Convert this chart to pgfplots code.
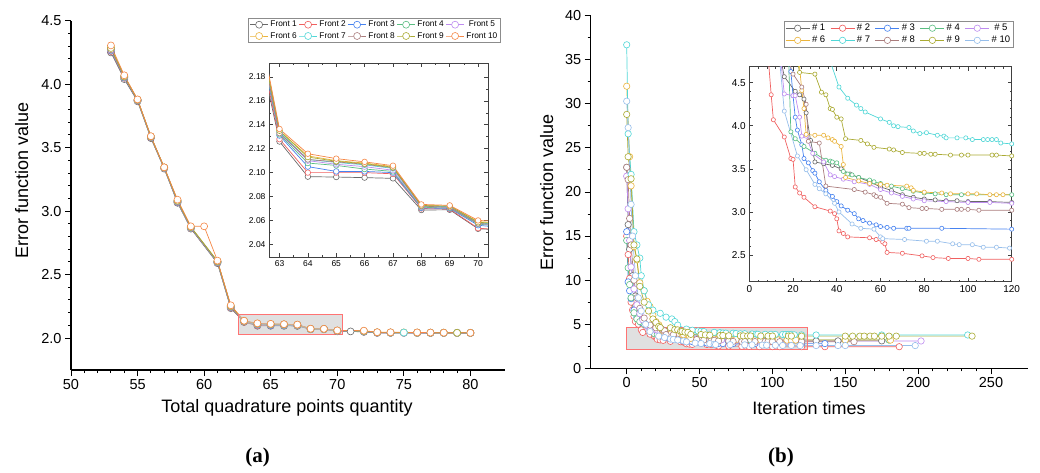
\documentclass[border=0pt]{standalone}
\usepackage{fontspec}
\setmainfont{Liberation Sans}
\newfontfamily\serifbf{Liberation Serif}
\usepackage{pgfplots}
\usepackage{pgfplotstable}
\pgfplotsset{compat=1.18}
\definecolor{c1}{RGB}{105,105,105}
\definecolor{c2}{RGB}{240,96,96}
\definecolor{c3}{RGB}{70,130,240}
\definecolor{c4}{RGB}{90,190,130}
\definecolor{c5}{RGB}{190,140,240}
\definecolor{c6}{RGB}{235,180,60}
\definecolor{c7}{RGB}{80,215,215}
\definecolor{c8}{RGB}{170,125,125}
\definecolor{c9}{RGB}{170,170,50}
\definecolor{c10}{RGB}{245,135,70}
\definecolor{c11}{RGB}{150,190,235}
\pgfplotsset{
  /pgf/number format/assume math mode=true,
  ser/.style={color=#1, line width=0.7pt, mark=*, mark options={fill=white, draw=#1, line width=0.6pt, solid}},
  mainax/.style={scale only axis, axis x line*=bottom, axis y line*=left,
    axis line style={line width=1.2pt,-}, tick align=outside,
    major tick length=6pt, minor tick length=3pt,
    tick style={black, line width=1pt},
    ticklabel style={font=\fontsize{14.5}{16}\selectfont}},
  insax/.style={scale only axis, axis line style={line width=0.8pt, black!75},
    tick align=inside, major tick length=4pt, minor tick length=2pt,
    tick style={black!75, line width=0.6pt}},
}
% ---------------- left data: fronts
\pgfplotstableread{
x y
53 4.250
54 4.040
55 3.865
56 3.575
57 3.335
58 3.065
59 2.862
61 2.590
62 2.235
63 2.126
64 2.0966
65 2.0963
66 2.0958
67 2.0952
68 2.0687
69 2.0689
70 2.053
71 2.052
72 2.048
73 2.040
74 2.040
75 2.040
76 2.039
77 2.039
78 2.039
79 2.039
80 2.039
}\La
\pgfplotstableread{
x y
53 4.260
54 4.050
55 3.870
56 3.580
57 3.338
58 3.070
59 2.865
61 2.595
62 2.240
63 2.128
64 2.100
65 2.100
66 2.100
67 2.099
68 2.070
69 2.0695
70 2.0535
72 2.050
73 2.041
74 2.041
75 2.041
76 2.040
77 2.040
78 2.040
79 2.040
80 2.040
}\Lb
\pgfplotstableread{
x y
53 4.265
54 4.052
55 3.872
56 3.582
57 3.340
58 3.072
59 2.867
61 2.597
62 2.243
63 2.131
64 2.105
65 2.101
66 2.101
67 2.100
68 2.0705
69 2.070
70 2.056
72 2.051
73 2.042
74 2.042
75 2.042
76 2.041
77 2.041
78 2.041
79 2.040
80 2.040
}\Lc
\pgfplotstableread{
x y
53 4.270
54 4.055
55 3.873
56 3.583
57 3.340
58 3.075
59 2.868
61 2.598
62 2.245
63 2.132
64 2.108
65 2.106
66 2.103
67 2.101
68 2.071
69 2.0705
70 2.057
72 2.052
73 2.043
74 2.042
75 2.042
76 2.041
77 2.041
78 2.041
79 2.041
80 2.040
}\Ld
\pgfplotstableread{
x y
53 4.272
54 4.057
55 3.874
56 3.584
57 3.341
58 3.077
59 2.870
61 2.600
62 2.247
63 2.133
64 2.110
65 2.107
66 2.105
67 2.102
68 2.0715
69 2.071
70 2.0575
72 2.053
73 2.043
74 2.043
75 2.042
76 2.042
77 2.041
78 2.041
79 2.041
80 2.040
}\Le
\pgfplotstableread{
x y
53 4.290
54 4.065
55 3.878
56 3.588
57 3.344
58 3.085
59 2.877
61 2.606
62 2.255
63 2.135
64 2.114
65 2.110
66 2.108
67 2.105
68 2.0725
69 2.072
70 2.059
72 2.056
73 2.045
74 2.044
75 2.044
76 2.043
77 2.042
78 2.042
79 2.041
80 2.041
}\Lf
\pgfplotstableread{
x y
53 4.280
54 4.060
55 3.876
56 3.586
57 3.343
58 3.080
59 2.873
61 2.603
62 2.250
63 2.134
64 2.111
65 2.1085
66 2.1065
67 2.1035
68 2.072
69 2.0715
70 2.058
72 2.054
73 2.044
74 2.043
75 2.043
76 2.042
77 2.042
78 2.041
79 2.041
80 2.041
}\Lg
\pgfplotstableread{
x y
53 4.275
54 4.058
55 3.875
56 3.585
57 3.342
58 3.078
59 2.872
61 2.601
62 2.248
63 2.133
64 2.111
65 2.109
66 2.107
67 2.104
68 2.072
69 2.071
70 2.0575
72 2.054
73 2.044
74 2.043
76 2.042
77 2.042
78 2.041
79 2.041
80 2.041
}\Lh
\pgfplotstableread{
x y
53 4.285
54 4.062
55 3.877
56 3.587
57 3.344
58 3.082
59 2.875
61 2.605
62 2.252
63 2.135
64 2.113
65 2.1095
66 2.1075
67 2.1045
68 2.0725
69 2.072
70 2.0585
72 2.055
73 2.045
74 2.044
76 2.043
77 2.042
78 2.042
79 2.041
80 2.041
}\Li
\pgfplotstableread{
x y
53 4.305
54 4.070
55 3.880
56 3.590
57 3.345
58 3.090
59 2.880
60 2.880
61 2.610
62 2.258
63 2.1365
64 2.1158
65 2.1117
66 2.109
67 2.1058
68 2.0734
69 2.0726
70 2.060
72 2.058
73 2.046
74 2.045
76 2.044
77 2.043
78 2.042
80 2.041
}\Lj
% ---------------- right data: runs
\pgfplotstableread{
x y
0 22.8
1 16.3
2 13.5
4 10.5
6 8.2
8 6.6
10 5.6
13 4.95
16 4.57
21 4.40
23 4.36
25 4.31
26 4.15
28 3.83
30 3.58
34 3.56
38 3.54
42 3.50
46 3.44
50 3.40
55 3.35
60 3.29
65 3.25
70 3.20
75 3.17
80 3.15
85 3.14
90 3.13
95 3.13
100 3.12
110 3.12
120 3.11
130 3.11
145 3.11
175 3.11
}\Ra
\pgfplotstableread{
x y
0 15.0
1 12.9
2 10.2
3 7.5
4 6.6
5 5.9
6 5.3
8 5.0
10 4.36
11 4.07
16 3.87
19 3.62
20 3.61
21 3.29
23 3.22
25 3.17
30 3.06
37 3.01
39 2.98
40 2.92
41 2.78
43 2.75
45 2.71
55 2.70
58 2.68
61 2.65
62 2.63
63 2.53
70 2.52
79 2.49
84 2.47
91 2.46
100 2.46
105 2.45
120 2.45
136 2.45
187 2.45
}\Rb
\pgfplotstableread{
x y
0 15.5
1 9.8
2 8.8
3 7.9
5 6.6
7 5.8
10 5.2
13 4.95
16 4.85
18 4.78
19 4.63
20 4.35
21 4.10
22 3.95
24 3.78
25 3.62
27 3.57
29 3.48
30 3.45
32 3.35
35 3.25
38 3.18
40 3.12
42 3.07
45 3.02
48 2.98
50 2.92
52 2.90
55 2.87
58 2.85
60 2.83
63 2.82
66 2.81
72 2.81
73 2.81
88 2.81
120 2.80
136 2.80
}\Rc
\pgfplotstableread{
x y
0 14.5
1 11.4
2 9.5
3 8.0
5 6.3
7 5.6
9 5.3
12 5.0
15 4.85
18 4.75
19 3.93
21 3.85
25 3.76
30 3.68
35 3.60
37 3.59
38 3.58
40 3.57
43 3.47
45 3.44
47 3.43
50 3.40
55 3.37
57 3.35
60 3.33
65 3.30
70 3.27
75 3.24
80 3.22
85 3.21
90 3.20
97 3.20
120 3.20
150 3.20
180 3.20
}\Rd
\pgfplotstableread{
x y
0 21.8
1 18.1
2 14.5
3 11.5
5 9.0
7 7.2
9 6.2
11 5.5
14 4.85
16 4.37
20 4.35
21 4.35
23 4.10
24 3.88
26 3.88
29 3.68
34 3.58
37 3.43
39 3.41
43 3.38
48 3.35
55 3.32
60 3.26
65 3.22
70 3.18
75 3.15
80 3.13
90 3.12
100 3.11
110 3.11
120 3.10
202 3.10
}\Re
\pgfplotstableread{
x y
0 32.0
2 24.0
3 20.7
5 13.8
7 12.3
9 9.7
12 8.8
14 7.6
16 7.0
18 6.0
20 5.3
22 4.95
24 4.41
25 4.20
26 3.90
30 3.89
34 3.89
36 3.86
38 3.84
39 3.82
42 3.76
43 3.55
44 3.40
50 3.36
55 3.33
60 3.32
63 3.31
72 3.30
74 3.28
75 3.25
80 3.23
88 3.22
92 3.21
100 3.21
104 3.21
110 3.20
113 3.20
116 3.20
150 3.20
181 3.20
}\Rf
\pgfplotstableread{
x y
0 36.7
1 26.6
3 22.0
5 15.5
7 14.0
9 12.5
10 10.5
12 8.8
15 7.2
18 6.6
23 6.24
27 5.8
31 5.6
33 5.3
35 4.9
41 4.45
45 4.32
49 4.24
51 4.20
53 4.16
60 4.08
64 4.04
66 4.00
68 3.99
73 3.98
75 3.94
78 3.91
81 3.92
86 3.89
89 3.88
90 3.86
95 3.86
99 3.86
102 3.84
107 3.84
109 3.84
111 3.84
113 3.84
115 3.80
120 3.79
130 3.78
175 3.78
234 3.78
}\Rg
\pgfplotstableread{
x y
0 22.8
1 21.4
2 17.0
3 14.0
5 10.0
7 8.0
9 6.8
12 5.7
16 4.9
20 4.6
24 4.45
26 4.25
27 3.82
32 3.80
35 3.30
48 3.26
53 3.23
57 3.20
58 3.18
60 3.17
63 3.10
70 3.09
73 3.05
79 3.04
81 3.04
88 3.03
95 3.03
97 3.03
100 3.03
105 3.02
120 3.02
156 3.02
}\Rh
\pgfplotstableread{
x y
0 28.8
1 24.0
3 21.5
5 14.0
7 12.4
9 9.3
12 7.5
15 6.5
18 5.6
20 5.2
22 4.75
23 4.62
30 4.60
33 4.39
35 4.36
37 4.20
38 4.19
40 4.10
42 4.08
44 3.85
51 3.83
54 3.79
57 3.75
64 3.73
66 3.72
70 3.69
78 3.68
80 3.68
83 3.67
85 3.67
92 3.66
97 3.66
100 3.66
111 3.66
113 3.66
120 3.65
150 3.65
155 3.65
160 3.65
163 3.65
167 3.65
170 3.65
175 3.65
180 3.65
185 3.65
237 3.65
}\Ri
\pgfplotstableread{
x y
0 30.3
1 27.3
3 18.6
4 15.0
6 10.5
8 8.0
10 6.5
13 5.0
16 4.17
22 3.65
26 3.49
30 3.32
32 3.27
35 3.21
39 3.10
41 3.00
47 2.86
51 2.81
57 2.80
60 2.71
61 2.69
71 2.68
81 2.66
86 2.66
93 2.63
96 2.62
102 2.62
107 2.59
113 2.59
119 2.58
130 2.58
145 2.58
150 2.58
198 2.58
}\Rj
\begin{document}
\begin{tikzpicture}[x=1pt,y=1pt]
\path[use as bounding box] (0,0) rectangle (1040,472);
% ================= LEFT MAIN
\begin{axis}[mainax, at={(71pt,102pt)}, anchor=south west,
  width=434pt, height=349.3pt,
  xmin=50, xmax=82.6, ymin=1.748, ymax=4.5,
  xtick={50,55,60,65,70,75,80}, ytick={2,2.5,3,3.5,4,4.5},
  minor x tick num=4, minor y tick num=4,
  yticklabel style={/pgf/number format/.cd, fixed, fixed zerofill, precision=1},
  every axis plot/.append style={mark size=3.5pt},
  legend columns=5,
  legend style={at={(0.99,1.007)}, anchor=north east, draw=black!45, line width=0.6pt,
    font=\fontsize{8.3}{9.5}\selectfont, inner xsep=1pt, inner ysep=0.5pt,
    /tikz/every even column/.append style={column sep=0pt}},
  legend image code/.code={\draw[#1, mark repeat=2, mark phase=2] plot coordinates {(0pt,0pt) (9pt,0pt) (18pt,0pt)};},
]
\addplot[ser=c1] table {\La}; \addlegendentry{Front 1}
\addplot[ser=c2] table {\Lb}; \addlegendentry{Front 2}
\addplot[ser=c3] table {\Lc}; \addlegendentry{Front 3}
\addplot[ser=c4] table {\Ld}; \addlegendentry{Front 4}
\addplot[ser=c5] table {\Le}; \addlegendentry{Front 5}
\addplot[ser=c6] table {\Lf}; \addlegendentry{Front 6}
\addplot[ser=c7] table {\Lg}; \addlegendentry{Front 7}
\addplot[ser=c8] table {\Lh}; \addlegendentry{Front 8}
\addplot[ser=c9] table {\Li}; \addlegendentry{Front 9}
\addplot[ser=c10] table {\Lj}; \addlegendentry{Front 10}
\fill[gray!45, fill opacity=0.55] (axis cs:62.6,2.03) rectangle (axis cs:70.4,2.19);
\draw[red!55, line width=0.6pt] (axis cs:62.6,2.03) rectangle (axis cs:70.4,2.19);
\end{axis}
% ================= LEFT INSET
\begin{axis}[insax, at={(269pt,215pt)}, anchor=south west,
  width=219pt, height=194pt,
  xmin=62.63, xmax=70.35, ymin=2.0294, ymax=2.1917,
  xtick={63,64,65,66,67,68,69,70}, ytick={2.04,2.06,2.08,2.10,2.12,2.14,2.16,2.18},
  minor x tick num=1, minor y tick num=1,
  ticklabel style={font=\fontsize{8.5}{10}\selectfont},
  yticklabel style={/pgf/number format/.cd, fixed, fixed zerofill, precision=2},
  every axis plot/.append style={mark size=2.8pt},
]
\addplot[ser=c1] table {\La};
\addplot[ser=c2] table {\Lb};
\addplot[ser=c3] table {\Lc};
\addplot[ser=c4] table {\Ld};
\addplot[ser=c5] table {\Le};
\addplot[ser=c6] table {\Lf};
\addplot[ser=c7] table {\Lg};
\addplot[ser=c8] table {\Lh};
\addplot[ser=c9] table {\Li};
\addplot[ser=c10] table {\Lj};
\end{axis}
% ================= RIGHT MAIN
\begin{axis}[mainax, at={(590.7pt,103.7pt)}, anchor=south west,
  width=437.6pt, height=352.6pt,
  xmin=-24.7, xmax=275.6, ymin=0, ymax=40,
  xtick={0,50,100,150,200,250}, ytick={0,5,10,15,20,25,30,35,40},
  minor x tick num=4, minor y tick num=1,
  every axis plot/.append style={mark size=3.2pt},
  legend columns=5,
  legend style={at={(0.966,0.984)}, anchor=north east, draw=black!45, line width=0.6pt,
    font=\fontsize{9.5}{11}\selectfont, inner xsep=1pt, inner ysep=0.5pt,
    /tikz/every even column/.append style={column sep=3pt}},
  legend image code/.code={\draw[#1, mark repeat=2, mark phase=2] plot coordinates {(0pt,0pt) (12pt,0pt) (24pt,0pt)};},
]
\addplot[ser=c1] table {\Ra}; \addlegendentry{\# 1}
\addplot[ser=c2] table {\Rb}; \addlegendentry{\# 2}
\addplot[ser=c3] table {\Rc}; \addlegendentry{\# 3}
\addplot[ser=c4] table {\Rd}; \addlegendentry{\# 4}
\addplot[ser=c5] table {\Re}; \addlegendentry{\# 5}
\addplot[ser=c6] table {\Rf}; \addlegendentry{\# 6}
\addplot[ser=c7] table {\Rg}; \addlegendentry{\# 7}
\addplot[ser=c8] table {\Rh}; \addlegendentry{\# 8}
\addplot[ser=c9] table {\Ri}; \addlegendentry{\# 9}
\addplot[ser=c11] table {\Rj}; \addlegendentry{\# 10}
\fill[gray!45, fill opacity=0.55] (axis cs:0,2.16) rectangle (axis cs:124,4.68);
\draw[red!55, line width=0.6pt] (axis cs:0,2.16) rectangle (axis cs:124,4.68);
\end{axis}
% ================= RIGHT INSET
\begin{axis}[insax, at={(749.3pt,190.3pt)}, anchor=south west,
  width=262.4pt, height=215pt,
  xmin=0, xmax=120, ymin=2.19, ymax=4.686,
  xtick={0,20,40,60,80,100,120}, ytick={2.5,3,3.5,4,4.5},
  minor x tick num=4, minor y tick num=4,
  ticklabel style={font=\fontsize{10}{12}\selectfont},
  yticklabel style={/pgf/number format/.cd, fixed, fixed zerofill, precision=1},
  every axis plot/.append style={mark size=2.1pt},
]
\addplot[ser=c1] table {\Ra};
\addplot[ser=c2] table {\Rb};
\addplot[ser=c3] table {\Rc};
\addplot[ser=c4] table {\Rd};
\addplot[ser=c5] table {\Re};
\addplot[ser=c6] table {\Rf};
\addplot[ser=c7] table {\Rg};
\addplot[ser=c8] table {\Rh};
\addplot[ser=c9] table {\Ri};
\addplot[ser=c11] table {\Rj};
\end{axis}
% ================= labels
\node[font=\fontsize{18}{20}\selectfont] at (287,64) {Total quadrature points quantity};
\node[font=\fontsize{18}{20}\selectfont, rotate=90] at (21.7,292) {Error function value};
\node[font=\fontsize{18}{20}\selectfont] at (809,64) {Iteration times};
\node[font=\fontsize{18}{20}\selectfont, rotate=90] at (546.7,280) {Error function value};
\node[font=\fontsize{21}{23}\serifbf\bfseries] at (257.5,15) {(a)};
\node[font=\fontsize{21}{23}\serifbf\bfseries] at (781,15) {(b)};
\end{tikzpicture}
\end{document}
